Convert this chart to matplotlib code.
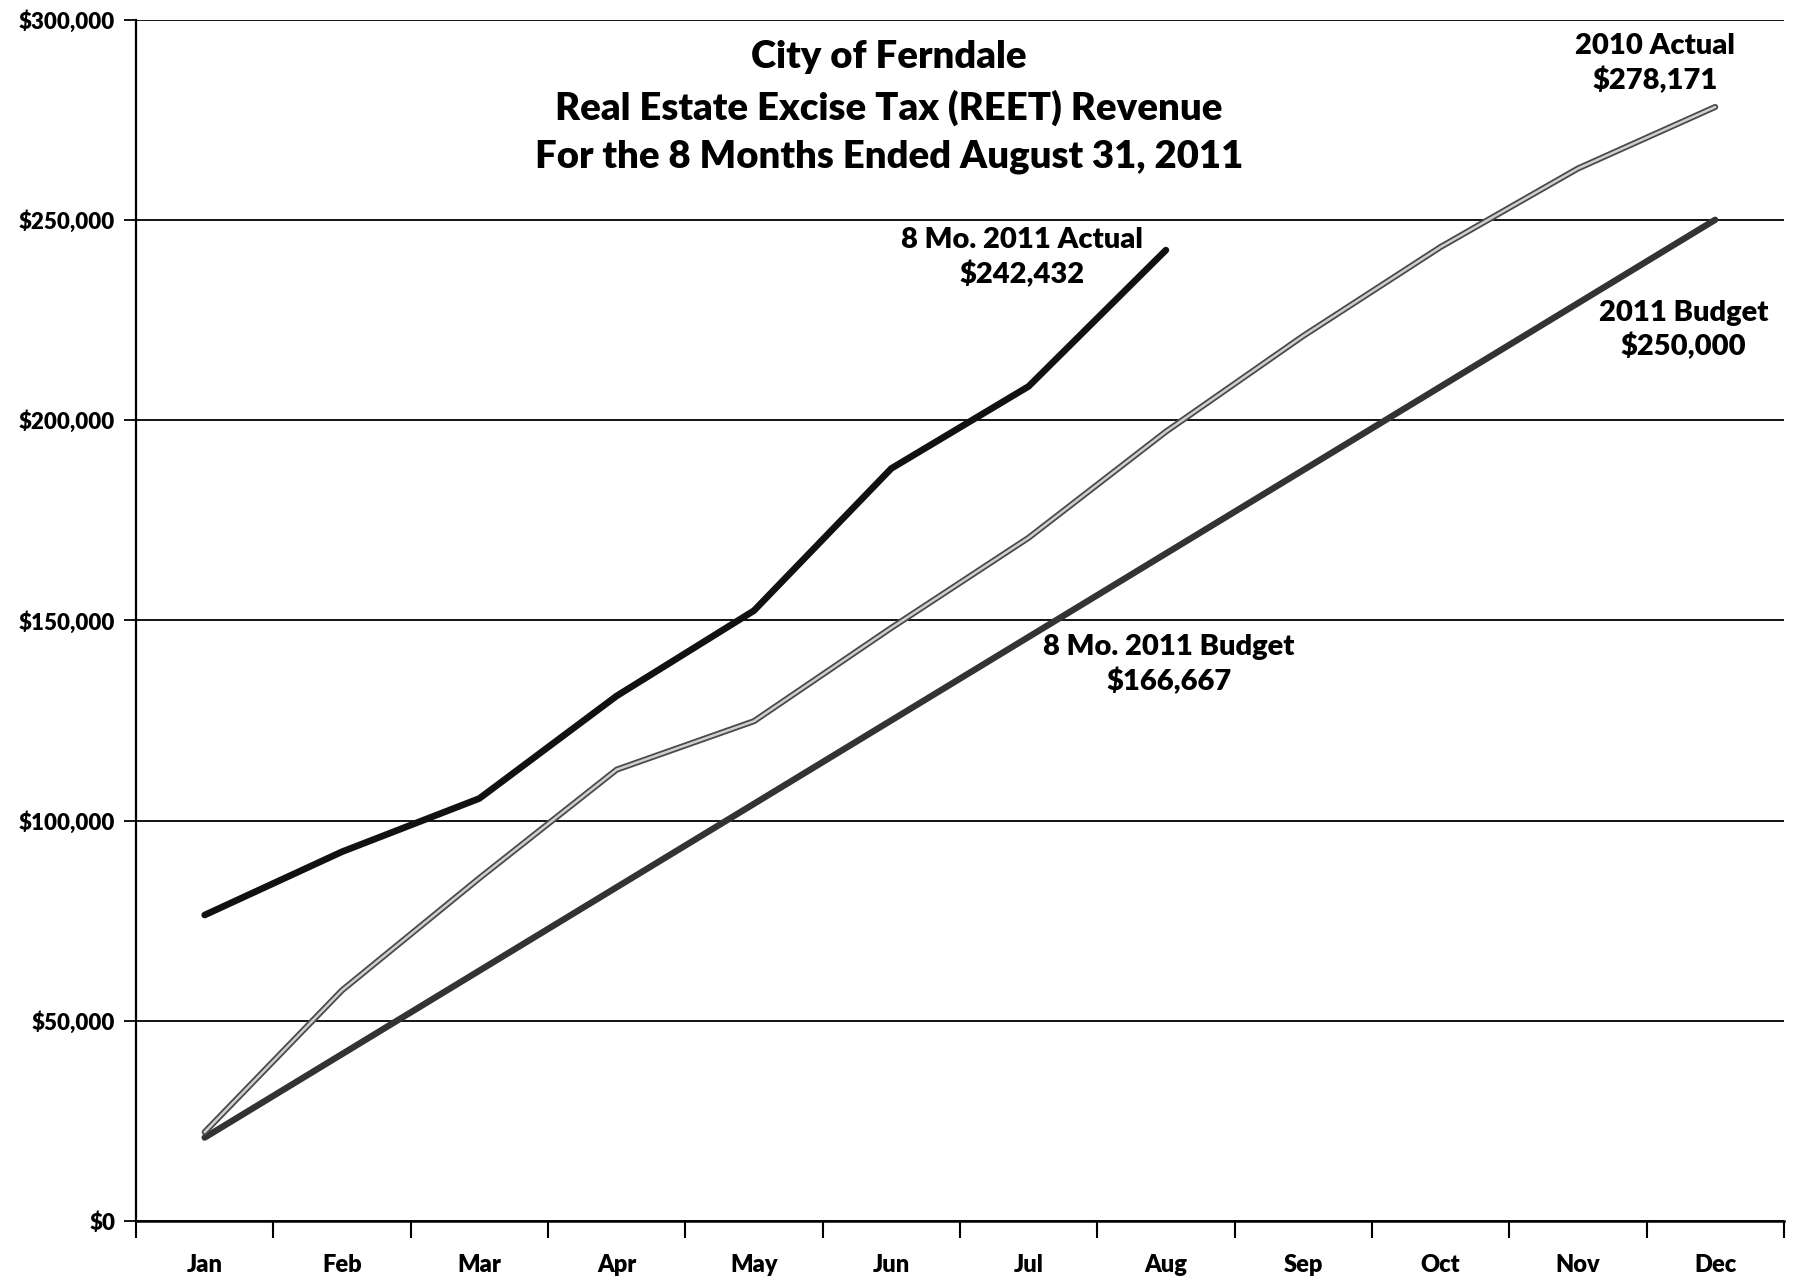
import matplotlib
matplotlib.use("Agg")
import matplotlib.pyplot as plt
from matplotlib.ticker import FuncFormatter

plt.rcParams['font.family'] = ['Lato', 'DejaVu Sans']
plt.rcParams['font.weight'] = 'heavy'

months = ['Jan', 'Feb', 'Mar', 'Apr', 'May', 'Jun', 'Jul', 'Aug', 'Sep', 'Oct', 'Nov', 'Dec']

# cumulative revenue
actual_2011 = [76400, 92200, 105500, 131100, 152400, 187900, 208400, 242432]
actual_2010 = [22200, 57600, 85600, 112700, 124800, 148100, 170600, 197100, 221000, 243200, 262800, 278171]
budget_2011 = [20833, 41667, 62500, 83333, 104167, 125000, 145833, 166667, 187500, 208333, 229167, 250000]

y_ticks = [0, 50000, 100000, 150000, 200000, 250000, 300000]

fig = plt.figure(figsize=(18.11, 12.78), dpi=100)
ax = fig.add_axes([0.0751, 0.0446, 0.9099, 0.9401])

x = list(range(len(months)))

# budget line - dark gray heavy
ax.plot(x, budget_2011, color='#333333', lw=4.6, solid_capstyle='round', zorder=3)
# 2010 actual - outlined gray line
ax.plot(x, actual_2010, color='#4a4a4a', lw=4.4, solid_capstyle='round', zorder=3)
ax.plot(x, actual_2010, color='#cfcfcf', lw=1.8, solid_capstyle='round', zorder=4)
# 2011 actual - black heavy
ax.plot(x[:len(actual_2011)], actual_2011, color='#111111', lw=4.8, solid_capstyle='round', zorder=5)

ax.set_xlim(-0.5, 11.5)
ax.set_ylim(0, 300000)
ax.set_yticks(y_ticks)
ax.yaxis.set_major_formatter(FuncFormatter(lambda v, p: '${:,.0f}'.format(v)))
ax.grid(axis='y', color='black', lw=1.3)
ax.set_axisbelow(True)

ax.set_xticks([i + 0.5 for i in range(-1, 12)])
ax.set_xticklabels([])
ax.set_xticks(x, minor=True)
ax.set_xticklabels(months, minor=True)
ax.tick_params(axis='x', which='major', direction='out', length=12, width=1.5, color='black')
ax.tick_params(axis='x', which='minor', length=0, pad=24, labelsize=17)
ax.tick_params(axis='y', direction='out', length=9, width=1.3, labelsize=16, pad=6)

for s in ['top', 'right']:
    ax.spines[s].set_visible(False)
ax.spines['left'].set_linewidth(1.6)
ax.spines['bottom'].set_linewidth(1.8)

ax.text(0.457, 0.927, 'City of Ferndale\nReal Estate Excise Tax (REET) Revenue\nFor the 8 Months Ended August 31, 2011',
        transform=ax.transAxes, ha='center', va='center', fontsize=27.5,
        linespacing=1.5)

ax.text(5.95, 240600, '8 Mo. 2011 Actual\n$242,432', ha='center', va='center', fontsize=21,
        linespacing=1.32)
ax.text(10.56, 289000, '2010 Actual\n$278,171', ha='center', va='center', fontsize=21,
        linespacing=1.32)
ax.text(10.77, 222500, '2011 Budget\n$250,000', ha='center', va='center', fontsize=21,
        linespacing=1.32)
ax.text(7.02, 138900, '8 Mo. 2011 Budget\n$166,667', ha='center', va='center', fontsize=21,
        linespacing=1.32)

fig.savefig('out.png', dpi=100)
